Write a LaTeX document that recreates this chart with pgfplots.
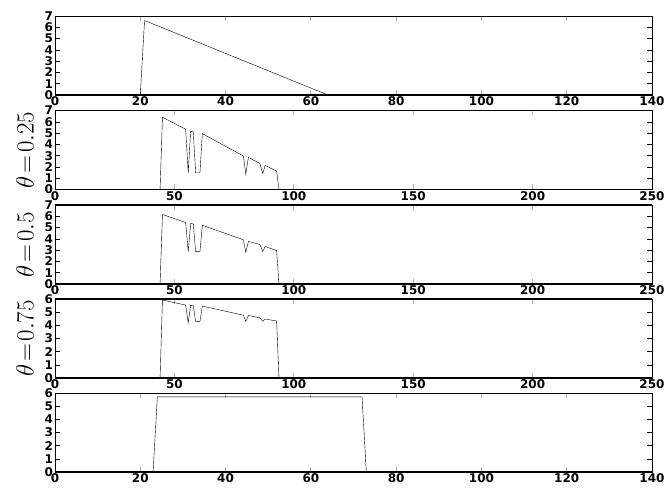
\documentclass[border=0pt]{standalone}
\usepackage{fontspec}
\setmainfont{DejaVu Sans}
\usepackage{pgfplots}
\pgfplotsset{compat=1.18}
\pgfplotsset{myax/.style={
  scale only axis, width=597pt, height=79pt, xmin=0, ymin=0,
  axis line style={line width=0.8pt},
  tick align=inside, major tick length=5pt,
  xtick style={gray!60, line width=0.9pt},
  ytick style={black, line width=0.5pt},
  ticklabel style={font=\fontsize{12}{12}\selectfont\bfseries},
  /pgf/number format/assume math mode=true,
  every axis y label/.style={at={(axis description cs:0,0.5)}, xshift=-30pt, rotate=90, anchor=center, font=\fontsize{23}{23}\selectfont},
  cycle list={{black, line width=0.5pt, mark=none}},
  xticklabel style={yshift=1.5pt},
  yticklabel style={xshift=1.5pt},
  after end axis/.code={\draw[line width=1.8pt] (rel axis cs:0,0) -- (rel axis cs:1,0);},
}}
\begin{document}
\begin{tikzpicture}
\useasboundingbox (0pt,0pt) rectangle (664pt,489pt);
% panel 1
\begin{axis}[myax, at={(55pt,473pt)}, anchor=north west, xmax=140, ymax=7, xtick={0,20,...,140}, ytick={0,...,7}]
\addplot coordinates {(0,0) (20,0) (21,6.6) (64,0) (140,0)};
\end{axis}
% panel 2
\begin{axis}[myax, at={(55pt,378.5pt)}, anchor=north west, xmax=250, ymax=7, xtick={0,50,...,250}, ytick={0,...,7}, ylabel={$\theta\!=\!0.25$}]
\addplot coordinates {(0,0) (44,0) (45,6.4) (54.7,5.34) (55.8,1.48) (56.8,5.16) (57.9,5.1) (58.9,1.48) (60.7,1.48) (61.7,4.95) (78.9,2.97) (79.9,1.36) (81,2.85) (85.8,2.31) (87,1.42) (88,2.13) (92.8,1.63) (93.8,0) (250,0)};
\end{axis}
% panel 3
\begin{axis}[myax, at={(55pt,284pt)}, anchor=north west, xmax=250, ymax=7, xtick={0,50,...,250}, ytick={0,...,7}, ylabel={$\theta\!=\!0.5$},
  after end axis/.append code={\draw[line width=1.8pt] (rel axis cs:0,1) -- (rel axis cs:1,1);}]
\addplot coordinates {(0,0) (44,0) (45,6.16) (54.7,5.45) (55.8,2.87) (56.8,5.36) (57.9,5.33) (58.9,2.87) (60.7,2.87) (61.7,5.2) (78.9,3.92) (79.9,2.81) (81,3.77) (85.8,3.5) (87,2.87) (88,3.32) (92.8,2.96) (93.8,0) (250,0)};
\end{axis}
% panel 4
\begin{axis}[myax, at={(55pt,190pt)}, anchor=north west, xmax=250, ymax=6, xtick={0,50,...,250}, ytick={0,...,6}, ylabel={$\theta\!=\!0.75$},
  after end axis/.append code={\draw[line width=1.8pt] (rel axis cs:0,1) -- (rel axis cs:1,1);}]
\addplot coordinates {(0,0) (44,0) (45,5.92) (54.7,5.54) (55.8,4.2) (56.8,5.52) (57.9,5.5) (58.9,4.3) (60.7,4.3) (61.7,5.46) (78.9,4.77) (79.9,4.3) (81,4.75) (85.8,4.56) (87,4.3) (88,4.48) (92.8,4.33) (93.8,0) (250,0)};
\end{axis}
% panel 5
\begin{axis}[myax, at={(55pt,96pt)}, anchor=north west, xmax=140, ymax=6, xtick={0,20,...,140}, ytick={0,...,6}]
\addplot coordinates {(0,0) (23,0) (24,5.7) (72,5.7) (73,0) (140,0)};
\end{axis}
\end{tikzpicture}
\end{document}
